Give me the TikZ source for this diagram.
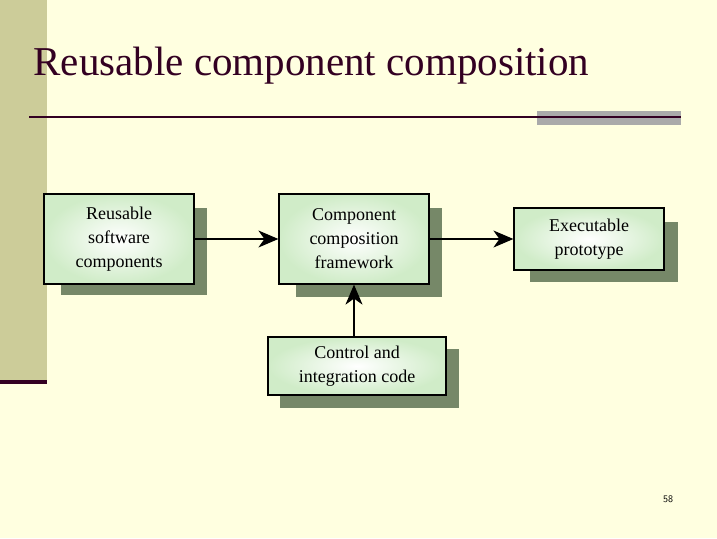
\documentclass[tikz,border=0pt]{standalone}
\usepackage{fontspec}
\setmainfont{Liberation Serif}
\usetikzlibrary{arrows.meta}
\definecolor{bg}{RGB}{255,255,224}
\definecolor{bar}{RGB}{204,204,153}
\definecolor{dark}{RGB}{51,0,34}
\definecolor{grayr}{RGB}{170,170,170}
\definecolor{boxg}{RGB}{208,236,200}
\definecolor{shad}{RGB}{118,136,104}
\begin{document}
\begin{tikzpicture}[x=1pt,y=-1pt,
  box/.style={draw=black,line width=1.2pt,inner color=white,outer color=boxg,align=center,font=\fontsize{18}{24}\selectfont},
  shadow/.style={fill=shad},
  arr/.style={line width=1.4pt,-{Stealth[length=20pt,width=17pt,inset=6pt]}}]
\useasboundingbox (0,0) rectangle (717,538);
\fill[bg] (0,0) rectangle (717,538);
\fill[bar] (0,0) rectangle (47,382);
\fill[dark] (0,380) rectangle (47,384);
\fill[grayr] (537,111) rectangle (681,125);
\draw[dark,line width=2.5pt] (29,117) -- (681,117);
\node[anchor=west,font=\fontsize{41}{44}\selectfont,text=dark] (title) at (30,66) {Reusable component composition};
\fill[shadow] (61,208) rectangle (207,295);
\fill[shadow] (296,208) rectangle (442,297);
\fill[shadow] (530,222) rectangle (678,282);
\fill[shadow] (280,349) rectangle (459,408);
\node[box,minimum width=150pt,minimum height=90pt] (b1) at (119,239) {Reusable\\software\\components};
\node[box,minimum width=150pt,minimum height=90pt] (b2) at (354,239) {Component\\composition\\framework};
\node[box,minimum width=150pt,minimum height=62pt] (b3) at (589,239) {Executable\\prototype};
\node[box,minimum width=178pt,minimum height=58pt] (b4) at (357,366) {Control and\\integration code};
\draw[arr] (b1.east) -- (b2.west);
\draw[arr] (b2.east) -- (b3.west);
\draw[arr] (b4.north -| b2) -- (b2.south);
\node[font=\sffamily\fontsize{10}{12}\selectfont] (pg) at (668,499) {58};
\end{tikzpicture}
\end{document}
